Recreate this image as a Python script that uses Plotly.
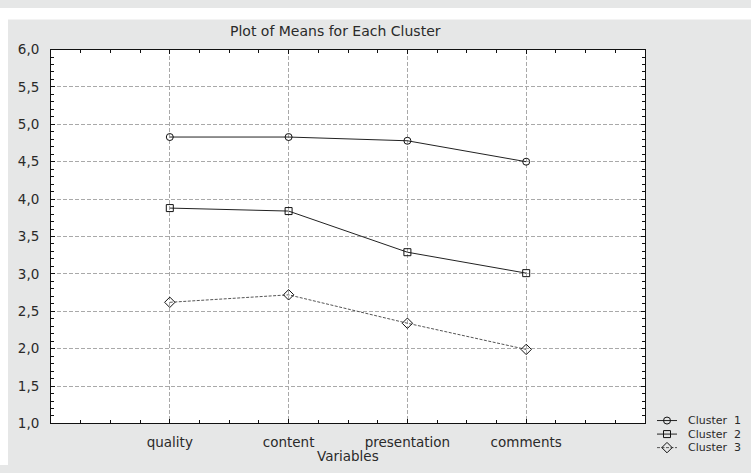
import plotly.graph_objects as go

# Cluster means per variable
categories = ["quality", "content", "presentation", "comments"]
cluster_names = ["Cluster  1", "Cluster  2", "Cluster  3"]
cluster1 = [4.83, 4.83, 4.78, 4.50]
cluster2 = [3.88, 3.84, 3.29, 3.01]
cluster3 = [2.62, 2.72, 2.34, 1.99]
y_ticks = [1.0, 1.5, 2.0, 2.5, 3.0, 3.5, 4.0, 4.5, 5.0, 5.5, 6.0]

W, H = 751, 473
# plot frame in pixels
L, R, T, B = 51, 645, 43, 430

def px_x(p):
    return p / W

def px_y(p):
    return 1 - p / H

FONT = "DejaVu Sans"
TXT = "#2a2a2a"
BG = "#e6e7e7"
GRID = "#a9a9a9"

xpos = [i + 1 for i in range(len(categories))]

styles = [
    dict(symbol="circle-open", size=7, line=dict(color="#222222", width=1, dash="solid")),
    dict(symbol="square-open", size=7, line=dict(color="#222222", width=1, dash="solid")),
    dict(symbol="diamond-open", size=8, line=dict(color="#555555", width=1, dash="3px,1.5px")),
]
series = [cluster1, cluster2, cluster3]

fig = go.Figure()

for name, vals, st in zip(cluster_names, series, styles):
    fig.add_trace(go.Scatter(
        x=xpos, y=vals, mode="lines+markers", name=name,
        line=st["line"],
        marker=dict(symbol=st["symbol"], size=st["size"], color="#111111",
                    line=dict(width=1, color="#111111")),
        showlegend=False, xaxis="x", yaxis="y",
    ))

# compact legend keys drawn on their own small axes (units = pixels)
rows = [427, 441, 455]
legend_notes = []
for name, st, ry in zip(cluster_names, styles, rows):
    fig.add_trace(go.Scatter(
        x=[657, 677], y=[ry, ry], mode="lines",
        line=st["line"], showlegend=False, hoverinfo="skip",
        xaxis="x2", yaxis="y2",
    ))
    fig.add_trace(go.Scatter(
        x=[667], y=[ry], mode="markers",
        marker=dict(symbol=st["symbol"], size=st["size"], color="#111111",
                    line=dict(width=1, color="#111111")),
        showlegend=False, hoverinfo="skip", xaxis="x2", yaxis="y2",
    ))
    legend_notes.append(dict(
        x=px_x(686), y=px_y(ry), xref="paper", yref="paper",
        text=name.replace(" ", "\u00a0"), showarrow=False,
        xanchor="left", yanchor="middle",
        font=dict(family=FONT, size=11, color=TXT),
    ))

axis_common = dict(
    showline=True, linecolor="#111111", linewidth=1, mirror="allticks",
    ticks="inside", tickcolor="#111111", ticklen=4, tickwidth=1,
    showgrid=True, gridcolor=GRID, gridwidth=1, griddash="4px,2px",
    zeroline=False,
    tickfont=dict(family=FONT, size=13.5, color=TXT),
)

fig.update_layout(
    width=W, height=H,
    margin=dict(l=0, r=0, t=0, b=0),
    paper_bgcolor=BG, plot_bgcolor=BG,
    separators=", ",
    showlegend=False,
    xaxis=dict(
        domain=[px_x(L), px_x(R)], range=[0, 5],
        tickmode="array", tickvals=xpos, ticktext=categories,
        minor=dict(ticks="inside", ticklen=3, dtick=0.25, tick0=0,
                   tickcolor="#111111", showgrid=False),
        ticklabelstandoff=6,
        **axis_common,
    ),
    yaxis=dict(
        domain=[px_y(B), px_y(T)], range=[1, 6],
        tickmode="array", tickvals=y_ticks, tickformat=".1f",
        minor=dict(ticks="inside", ticklen=3, dtick=0.1, tick0=1,
                   tickcolor="#111111", showgrid=False),
        ticklabelstandoff=8,
        **axis_common,
    ),
    xaxis2=dict(domain=[px_x(650), 1], range=[650, W], visible=False,
                fixedrange=True, anchor="y2"),
    yaxis2=dict(domain=[0, px_y(415)], range=[H, 415], visible=False,
                fixedrange=True, anchor="x2"),
    shapes=[
        # white plotting field
        dict(type="rect", xref="x domain", yref="y domain", x0=0, x1=1,
             y0=0, y1=1, fillcolor="white", line=dict(width=0),
             layer="below"),
        # white strips along the top and left edges of the canvas
        dict(type="rect", xref="paper", yref="paper", x0=0, x1=1,
             y0=px_y(12), y1=1, fillcolor="white", line=dict(width=0),
             layer="below"),
        dict(type="rect", xref="paper", yref="paper", x0=0, x1=px_x(8),
             y0=0, y1=1, fillcolor="white", line=dict(width=0),
             layer="below"),
    ],
    annotations=legend_notes + [
        dict(x=px_x(335), y=px_y(24), xref="paper", yref="paper",
             text="Plot of Means for Each Cluster", showarrow=False,
             xanchor="center", yanchor="middle",
             font=dict(family=FONT, size=14, color=TXT)),
        dict(x=px_x(348), y=px_y(464), xref="paper", yref="paper",
             text="Variables", showarrow=False,
             xanchor="center", yanchor="middle",
             font=dict(family=FONT, size=13.5, color=TXT)),
    ],
)

fig.write_html("out.html")
